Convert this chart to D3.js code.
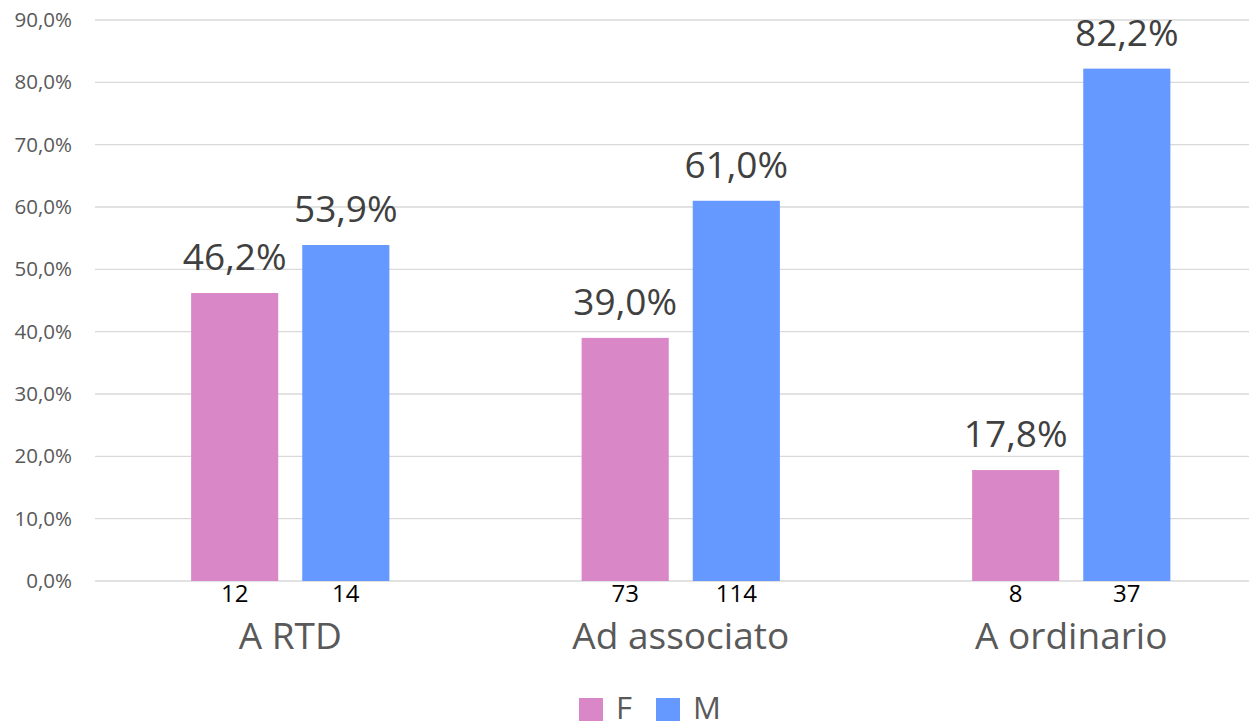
<!DOCTYPE html>
<html>
<head>
<meta charset="utf-8">
<script src="https://cdn.jsdelivr.net/npm/d3@7"></script>
<style>
  body { margin: 0; background: #fff; }
  text { font-family: "Open Sans", sans-serif; }
</style>
</head>
<body>
<div id="chart-area"></div>
<script>
// Data
let categories = ["A RTD", "Ad associato", "A ordinario"];
let series = ["F", "M"];
let valuesF = [46.2, 39.0, 17.8];
let valuesM = [53.9, 61.0, 82.2];
let countsF = [12, 73, 8];
let countsM = [14, 114, 37];
let yTicks = [0, 10, 20, 30, 40, 50, 60, 70, 80, 90];

let colors = {F: "#DA87C7", M: "#6699FF"};

let width = 1249, height = 727;

let svg = d3.select("#chart-area")
    .append("svg")
    .attr("width", width)
    .attr("height", height);

let data = categories.map(function (c, i) {
    return {
        cat: c,
        bars: [
            {key: "F", value: valuesF[i], count: countsF[i]},
            {key: "M", value: valuesM[i], count: countsM[i]}
        ]
    };
});

// Scales
let x0 = d3.scaleBand()
    .domain(categories)
    .range([95, 1266.5])
    .padding(0);

let x1 = d3.scaleBand()
    .domain(series)
    .range([0, x0.bandwidth()])
    .paddingInner(0.216)
    .paddingOuter(0.865);

let y = d3.scaleLinear()
    .domain([0, 90])
    .range([581, 20]);

// Grid lines
svg.append("g")
    .selectAll("line")
    .data(yTicks)
    .enter()
    .append("line")
    .attr("x1", 95)
    .attr("x2", 1266)
    .attr("y1", function (d) { return y(d); })
    .attr("y2", function (d) { return y(d); })
    .attr("stroke", "#d9d9d9")
    .attr("stroke-width", 1.3);

// Y Axis
let yAxisCall = d3.axisLeft(y)
    .tickValues(yTicks)
    .tickSize(0)
    .tickPadding(0)
    .tickFormat(function (d) {
        return d3.format(".1f")(d).replace(".", ",") + "%";
    });
let yAxis = svg.append("g")
    .attr("class", "y axis")
    .attr("transform", "translate(72,0)")
    .call(yAxisCall);
yAxis.select(".domain").remove();
yAxis.selectAll("text")
    .attr("font-family", "Open Sans")
    .attr("font-size", "20.5px")
    .attr("fill", "#595959");

// X Axis (category labels)
let xAxisCall = d3.axisBottom(x0).tickSize(0).tickPadding(0);
let xAxis = svg.append("g")
    .attr("class", "x axis")
    .attr("transform", "translate(0,649)")
    .call(xAxisCall);
xAxis.select(".domain").remove();
xAxis.selectAll("text")
    .attr("dy", 0)
    .attr("font-family", "Open Sans")
    .attr("font-size", "37px")
    .attr("fill", "#595959");

// Bars
let groups = svg.selectAll(".group")
    .data(data)
    .enter()
    .append("g")
    .attr("class", "group")
    .attr("transform", function (d) { return "translate(" + x0(d.cat) + ",0)"; });

groups.selectAll("rect")
    .data(function (d) { return d.bars; })
    .enter()
    .append("rect")
    .attr("x", function (d) { return x1(d.key); })
    .attr("y", function (d) { return y(d.value); })
    .attr("width", x1.bandwidth())
    .attr("height", function (d) { return y(0) - y(d.value); })
    .attr("fill", function (d) { return colors[d.key]; });

// Value labels
groups.selectAll(".val")
    .data(function (d) { return d.bars; })
    .enter()
    .append("text")
    .attr("class", "val")
    .attr("x", function (d) { return x1(d.key) + x1.bandwidth() / 2; })
    .attr("y", function (d) { return y(d.value) - 23; })
    .attr("text-anchor", "middle")
    .attr("font-size", "37px")
    .attr("fill", "#404040")
    .text(function (d) { return d.value.toFixed(1).replace(".", ",") + "%"; });

// Count labels
groups.selectAll(".cnt")
    .data(function (d) { return d.bars; })
    .enter()
    .append("text")
    .attr("class", "cnt")
    .attr("x", function (d) { return x1(d.key) + x1.bandwidth() / 2; })
    .attr("y", 602)
    .attr("text-anchor", "middle")
    .attr("font-size", "24px")
    .attr("fill", "#000")
    .text(function (d) { return d.count; });

// Legend
let legendX = [579, 656];
let legend = svg.selectAll(".legend")
    .data(series)
    .enter()
    .append("g")
    .attr("class", "legend")
    .attr("transform", function (d, i) { return "translate(" + legendX[i] + ",698)"; });

legend.append("rect")
    .attr("width", 24)
    .attr("height", 23)
    .attr("fill", function (d) { return colors[d]; });

legend.append("text")
    .attr("x", 37)
    .attr("y", 21)
    .attr("font-size", "31px")
    .attr("fill", "#595959")
    .text(function (d) { return d; });
</script>
</body>
</html>
